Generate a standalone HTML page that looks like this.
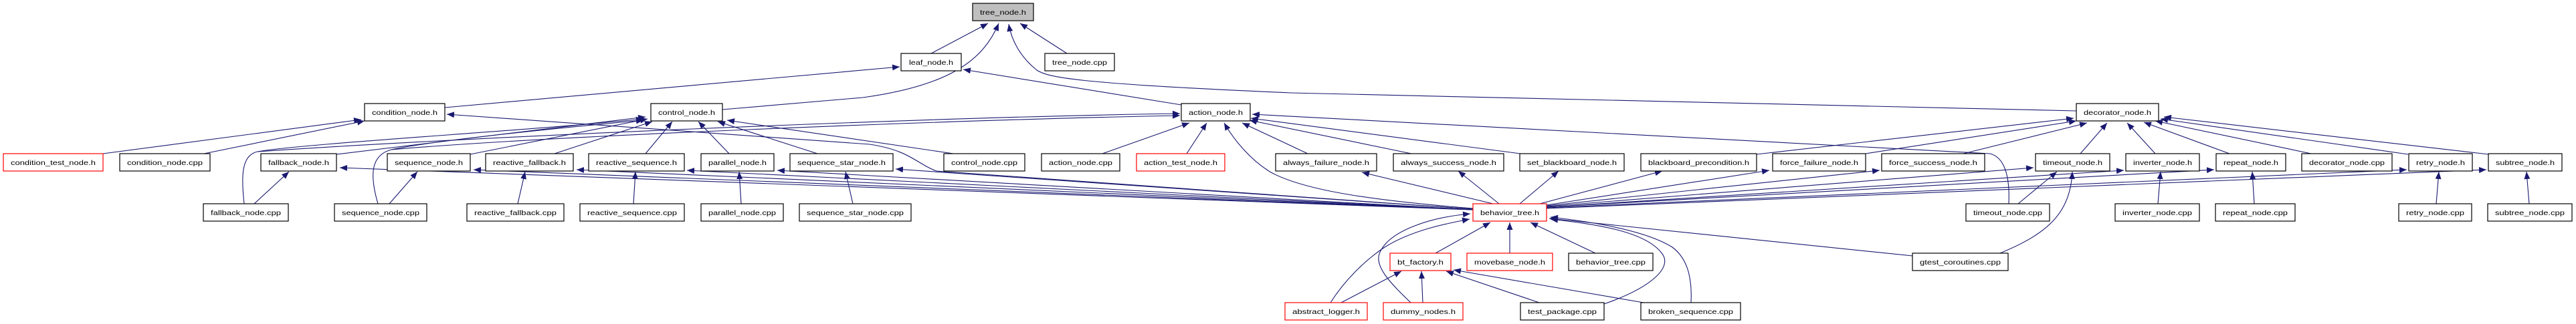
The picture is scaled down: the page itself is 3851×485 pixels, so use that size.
<!DOCTYPE html>
<html><head><meta charset="utf-8"><style>
html,body{margin:0;padding:0;background:#fff;}
svg{display:block;}
text{font-family:"Liberation Sans",sans-serif;font-size:10.5px;fill:#000;}
</style></head><body>
<svg width="3851" height="485" viewBox="0 0 3851 485" xmlns="http://www.w3.org/2000/svg">
<defs><marker id="a" markerUnits="userSpaceOnUse" markerWidth="12" markerHeight="9" refX="11" refY="4.5" orient="auto"><path d="M0,0 L11,4.5 L0,9 z" fill="#191970"/></marker></defs>
<g fill="none" stroke="#191970" stroke-width="1.1" marker-end="url(#a)">
<!-- to tree_node.h -->
<path d="M1392,80 L1477,35"/>
<path d="M1595,80 L1525,35"/>
<path d="M1080,164 L1290,146 C1420,128 1470,90 1493,35"/>
<path d="M3104,166 L1930,139 C1600,125 1565,115 1550,105 C1525,85 1512,60 1508,36"/>
<!-- to leaf_node.h -->
<path d="M665,161 L1345,100"/>
<path d="M1766,157 L1440,104"/>
<!-- to condition_node.h -->
<path d="M154,230 L540,179"/>
<path d="M305,230 L545,181"/>
<path d="M2202,313 L1400,256 C1370,245 1360,225 1300,216 L668,171"/>
<!-- to control_node.h -->
<path d="M1425,230 L1087,180"/>
<path d="M1222,230 L1073,182"/>
<path d="M1090,230 L1044,182"/>
<path d="M965,230 L1005,182"/>
<path d="M829,230 L975,182"/>
<path d="M703,231 L968,178"/>
<path d="M503,231 L965,175"/>
<path d="M365,305 C360,260 362,232 385,227 C450,215 800,195 962,178"/>
<path d="M565,305 C552,260 555,232 585,224 C650,210 850,190 962,180"/>
<!-- to action_node.h -->
<path d="M385,227 C700,205 1400,175 1764,170"/>
<path d="M585,224 C800,205 1400,180 1764,173"/>
<path d="M1648,230 L1778,184"/>
<path d="M1774,230 L1804,184"/>
<path d="M2202,312 C2050,300 1950,285 1900,258 C1870,240 1845,210 1830,184"/>
<path d="M1955,230 L1857,184"/>
<path d="M2110,230 L1868,180"/>
<path d="M2273,230 L1870,177"/>
<path d="M3003,305 C3005,260 2995,235 2975,230 L1872,171"/>
<!-- to decorator_node.h -->
<path d="M2626,231 L3100,177"/>
<path d="M2789,230 L3104,181"/>
<path d="M2935,230 L3120,184"/>
<path d="M3110,230 L3150,184"/>
<path d="M3222,230 L3180,184"/>
<path d="M3333,230 L3205,183"/>
<path d="M3455,230 L3222,181"/>
<path d="M3600,231 L3230,178"/>
<path d="M3720,231 L3235,175"/>
<!-- cpp to h -->
<path d="M380,305 L432,257"/>
<path d="M582,305 L624,257"/>
<path d="M774,305 L785,257"/>
<path d="M947,305 L950,257"/>
<path d="M1108,305 L1105,257"/>
<path d="M1275,305 L1264,257"/>
<path d="M3017,305 L3075,257"/>
<path d="M3226,305 L3230,257"/>
<path d="M3370,305 L3367,257"/>
<path d="M3642,305 L3646,257"/>
<path d="M3781,305 L3777,257"/>
<path d="M2990,379 C3060,350 3095,320 3098,257"/>
<!-- behavior_tree.h to row4 -->
<path d="M2202,314 L508,251"/>
<path d="M2202,314 L708,254"/>
<path d="M2202,314 L862,254"/>
<path d="M2202,314 L1027,255"/>
<path d="M2202,314 L1162,255"/>
<path d="M2202,313 L1339,253"/>
<path d="M2232,305 L2036,258"/>
<path d="M2241,305 L2180,256"/>
<path d="M2272,305 L2330,256"/>
<path d="M2302,305 L2485,256"/>
<path d="M2312,307 L2645,255"/>
<path d="M2312,308 L2810,255"/>
<path d="M2312,309 L3040,251"/>
<path d="M2312,310 L3175,255"/>
<path d="M2312,310 L3310,254"/>
<path d="M2312,311 L3598,254"/>
<path d="M2312,312 L3717,254"/>
<!-- to behavior_tree.h -->
<path d="M2146,379 L2228,333"/>
<path d="M2257,379 L2257,333"/>
<path d="M2385,379 L2288,333"/>
<path d="M2859,383 L2316,327"/>
<path d="M1989,453 C2010,420 2040,390 2070,370 C2110,345 2160,335 2197,328"/>
<path d="M2109,453 C2080,425 2055,400 2062,380 C2075,345 2140,325 2198,320"/>
<path d="M2398,455 C2470,430 2500,400 2485,380 C2460,345 2380,335 2318,328"/>
<path d="M2528,453 C2530,410 2520,385 2500,370 C2460,345 2380,332 2318,325"/>
<!-- to bt_factory.h -->
<path d="M2005,453 L2095,406"/>
<path d="M2127,453 L2125,406"/>
<path d="M2301,453 L2162,406"/>
<path d="M2457,453 L2173,404"/>
</g>
<g stroke-width="1.2">
<rect x="1454" y="5" width="91" height="26" fill="#bfbfbf" stroke="#000"/><text x="1499.5" y="22" text-anchor="middle" textLength="69" lengthAdjust="spacingAndGlyphs">tree_node.h</text>
<rect x="1347" y="80" width="90" height="26" fill="#fff" stroke="#000"/><text x="1392" y="97" text-anchor="middle" textLength="66" lengthAdjust="spacingAndGlyphs">leaf_node.h</text>
<rect x="1562" y="80" width="104" height="26" fill="#fff" stroke="#000"/><text x="1614" y="97" text-anchor="middle" textLength="82" lengthAdjust="spacingAndGlyphs">tree_node.cpp</text>
<rect x="545" y="155" width="120" height="26" fill="#fff" stroke="#000"/><text x="605" y="172" text-anchor="middle" textLength="98" lengthAdjust="spacingAndGlyphs">condition_node.h</text>
<rect x="973" y="155" width="107" height="26" fill="#fff" stroke="#000"/><text x="1026.5" y="172" text-anchor="middle" textLength="85" lengthAdjust="spacingAndGlyphs">control_node.h</text>
<rect x="1766" y="155" width="103" height="26" fill="#fff" stroke="#000"/><text x="1817.5" y="172" text-anchor="middle" textLength="81" lengthAdjust="spacingAndGlyphs">action_node.h</text>
<rect x="3104" y="155" width="123" height="26" fill="#fff" stroke="#000"/><text x="3165.5" y="172" text-anchor="middle" textLength="101" lengthAdjust="spacingAndGlyphs">decorator_node.h</text>

<rect x="5" y="230" width="149" height="26" fill="#fff" stroke="#f00"/><text x="79.5" y="247" text-anchor="middle" textLength="127" lengthAdjust="spacingAndGlyphs">condition_test_node.h</text>
<rect x="179" y="230" width="135" height="26" fill="#fff" stroke="#000"/><text x="246.5" y="247" text-anchor="middle" textLength="113" lengthAdjust="spacingAndGlyphs">condition_node.cpp</text>
<rect x="390" y="230" width="113" height="26" fill="#fff" stroke="#000"/><text x="446.5" y="247" text-anchor="middle" textLength="91" lengthAdjust="spacingAndGlyphs">fallback_node.h</text>
<rect x="579" y="230" width="124" height="26" fill="#fff" stroke="#000"/><text x="641" y="247" text-anchor="middle" textLength="102" lengthAdjust="spacingAndGlyphs">sequence_node.h</text>
<rect x="726" y="230" width="131" height="26" fill="#fff" stroke="#000"/><text x="791.5" y="247" text-anchor="middle" textLength="109" lengthAdjust="spacingAndGlyphs">reactive_fallback.h</text>
<rect x="880" y="230" width="143" height="26" fill="#fff" stroke="#000"/><text x="951.5" y="247" text-anchor="middle" textLength="121" lengthAdjust="spacingAndGlyphs">reactive_sequence.h</text>
<rect x="1048" y="230" width="109" height="26" fill="#fff" stroke="#000"/><text x="1102.5" y="247" text-anchor="middle" textLength="87" lengthAdjust="spacingAndGlyphs">parallel_node.h</text>
<rect x="1181" y="230" width="154" height="26" fill="#fff" stroke="#000"/><text x="1258" y="247" text-anchor="middle" textLength="132" lengthAdjust="spacingAndGlyphs">sequence_star_node.h</text>
<rect x="1411" y="230" width="121" height="26" fill="#fff" stroke="#000"/><text x="1471.5" y="247" text-anchor="middle" textLength="99" lengthAdjust="spacingAndGlyphs">control_node.cpp</text>
<rect x="1557" y="230" width="117" height="26" fill="#fff" stroke="#000"/><text x="1615.5" y="247" text-anchor="middle" textLength="95" lengthAdjust="spacingAndGlyphs">action_node.cpp</text>
<rect x="1699" y="230" width="132" height="26" fill="#fff" stroke="#f00"/><text x="1765" y="247" text-anchor="middle" textLength="110" lengthAdjust="spacingAndGlyphs">action_test_node.h</text>
<rect x="1907" y="230" width="151" height="26" fill="#fff" stroke="#000"/><text x="1982.5" y="247" text-anchor="middle" textLength="129" lengthAdjust="spacingAndGlyphs">always_failure_node.h</text>
<rect x="2083" y="230" width="165" height="26" fill="#fff" stroke="#000"/><text x="2165.5" y="247" text-anchor="middle" textLength="143" lengthAdjust="spacingAndGlyphs">always_success_node.h</text>
<rect x="2272" y="230" width="156" height="26" fill="#fff" stroke="#000"/><text x="2350" y="247" text-anchor="middle" textLength="134" lengthAdjust="spacingAndGlyphs">set_blackboard_node.h</text>
<rect x="2453" y="230" width="173" height="26" fill="#fff" stroke="#000"/><text x="2539.5" y="247" text-anchor="middle" textLength="151" lengthAdjust="spacingAndGlyphs">blackboard_precondition.h</text>
<rect x="2650" y="230" width="139" height="26" fill="#fff" stroke="#000"/><text x="2719.5" y="247" text-anchor="middle" textLength="117" lengthAdjust="spacingAndGlyphs">force_failure_node.h</text>
<rect x="2813" y="230" width="154" height="26" fill="#fff" stroke="#000"/><text x="2890" y="247" text-anchor="middle" textLength="132" lengthAdjust="spacingAndGlyphs">force_success_node.h</text>
<rect x="3043" y="230" width="111" height="26" fill="#fff" stroke="#000"/><text x="3098.5" y="247" text-anchor="middle" textLength="89" lengthAdjust="spacingAndGlyphs">timeout_node.h</text>
<rect x="3178" y="230" width="110" height="26" fill="#fff" stroke="#000"/><text x="3233" y="247" text-anchor="middle" textLength="88" lengthAdjust="spacingAndGlyphs">inverter_node.h</text>
<rect x="3313" y="230" width="104" height="26" fill="#fff" stroke="#000"/><text x="3365" y="247" text-anchor="middle" textLength="82" lengthAdjust="spacingAndGlyphs">repeat_node.h</text>
<rect x="3441" y="230" width="135" height="26" fill="#fff" stroke="#000"/><text x="3508.5" y="247" text-anchor="middle" textLength="113" lengthAdjust="spacingAndGlyphs">decorator_node.cpp</text>
<rect x="3601" y="230" width="95" height="26" fill="#fff" stroke="#000"/><text x="3648.5" y="247" text-anchor="middle" textLength="73" lengthAdjust="spacingAndGlyphs">retry_node.h</text>
<rect x="3720" y="230" width="110" height="26" fill="#fff" stroke="#000"/><text x="3775" y="247" text-anchor="middle" textLength="88" lengthAdjust="spacingAndGlyphs">subtree_node.h</text>

<rect x="304" y="305" width="127" height="26" fill="#fff" stroke="#000"/><text x="367.5" y="322" text-anchor="middle" textLength="105" lengthAdjust="spacingAndGlyphs">fallback_node.cpp</text>
<rect x="500" y="305" width="138" height="26" fill="#fff" stroke="#000"/><text x="569" y="322" text-anchor="middle" textLength="116" lengthAdjust="spacingAndGlyphs">sequence_node.cpp</text>
<rect x="698" y="305" width="145" height="26" fill="#fff" stroke="#000"/><text x="770.5" y="322" text-anchor="middle" textLength="123" lengthAdjust="spacingAndGlyphs">reactive_fallback.cpp</text>
<rect x="867" y="305" width="156" height="26" fill="#fff" stroke="#000"/><text x="945" y="322" text-anchor="middle" textLength="134" lengthAdjust="spacingAndGlyphs">reactive_sequence.cpp</text>
<rect x="1048" y="305" width="123" height="26" fill="#fff" stroke="#000"/><text x="1109.5" y="322" text-anchor="middle" textLength="101" lengthAdjust="spacingAndGlyphs">parallel_node.cpp</text>
<rect x="1195" y="305" width="167" height="26" fill="#fff" stroke="#000"/><text x="1278.5" y="322" text-anchor="middle" textLength="145" lengthAdjust="spacingAndGlyphs">sequence_star_node.cpp</text>
<rect x="2202" y="305" width="110" height="26" fill="#fff" stroke="#f00"/><text x="2257" y="322" text-anchor="middle" textLength="88" lengthAdjust="spacingAndGlyphs">behavior_tree.h</text>
<rect x="2939" y="305" width="125" height="26" fill="#fff" stroke="#000"/><text x="3001.5" y="322" text-anchor="middle" textLength="103" lengthAdjust="spacingAndGlyphs">timeout_node.cpp</text>
<rect x="3162" y="305" width="126" height="26" fill="#fff" stroke="#000"/><text x="3225" y="322" text-anchor="middle" textLength="104" lengthAdjust="spacingAndGlyphs">inverter_node.cpp</text>
<rect x="3312" y="305" width="119" height="26" fill="#fff" stroke="#000"/><text x="3371.5" y="322" text-anchor="middle" textLength="97" lengthAdjust="spacingAndGlyphs">repeat_node.cpp</text>
<rect x="3586" y="305" width="109" height="26" fill="#fff" stroke="#000"/><text x="3640.5" y="322" text-anchor="middle" textLength="87" lengthAdjust="spacingAndGlyphs">retry_node.cpp</text>
<rect x="3719" y="305" width="126" height="26" fill="#fff" stroke="#000"/><text x="3782" y="322" text-anchor="middle" textLength="104" lengthAdjust="spacingAndGlyphs">subtree_node.cpp</text>

<rect x="2078" y="379" width="91" height="26" fill="#fff" stroke="#f00"/><text x="2123.5" y="396" text-anchor="middle" textLength="69" lengthAdjust="spacingAndGlyphs">bt_factory.h</text>
<rect x="2193" y="379" width="128" height="26" fill="#fff" stroke="#f00"/><text x="2257" y="396" text-anchor="middle" textLength="106" lengthAdjust="spacingAndGlyphs">movebase_node.h</text>
<rect x="2345" y="379" width="126" height="26" fill="#fff" stroke="#000"/><text x="2408" y="396" text-anchor="middle" textLength="104" lengthAdjust="spacingAndGlyphs">behavior_tree.cpp</text>
<rect x="2859" y="379" width="143" height="26" fill="#fff" stroke="#000"/><text x="2930.5" y="396" text-anchor="middle" textLength="121" lengthAdjust="spacingAndGlyphs">gtest_coroutines.cpp</text>

<rect x="1921" y="453" width="123" height="26" fill="#fff" stroke="#f00"/><text x="1982.5" y="470" text-anchor="middle" textLength="101" lengthAdjust="spacingAndGlyphs">abstract_logger.h</text>
<rect x="2068" y="453" width="119" height="26" fill="#fff" stroke="#f00"/><text x="2127.5" y="470" text-anchor="middle" textLength="97" lengthAdjust="spacingAndGlyphs">dummy_nodes.h</text>
<rect x="2273" y="453" width="125" height="26" fill="#fff" stroke="#000"/><text x="2335.5" y="470" text-anchor="middle" textLength="103" lengthAdjust="spacingAndGlyphs">test_package.cpp</text>
<rect x="2453" y="453" width="149" height="26" fill="#fff" stroke="#000"/><text x="2527.5" y="470" text-anchor="middle" textLength="127" lengthAdjust="spacingAndGlyphs">broken_sequence.cpp</text>
</g>
</svg>
</body></html>
